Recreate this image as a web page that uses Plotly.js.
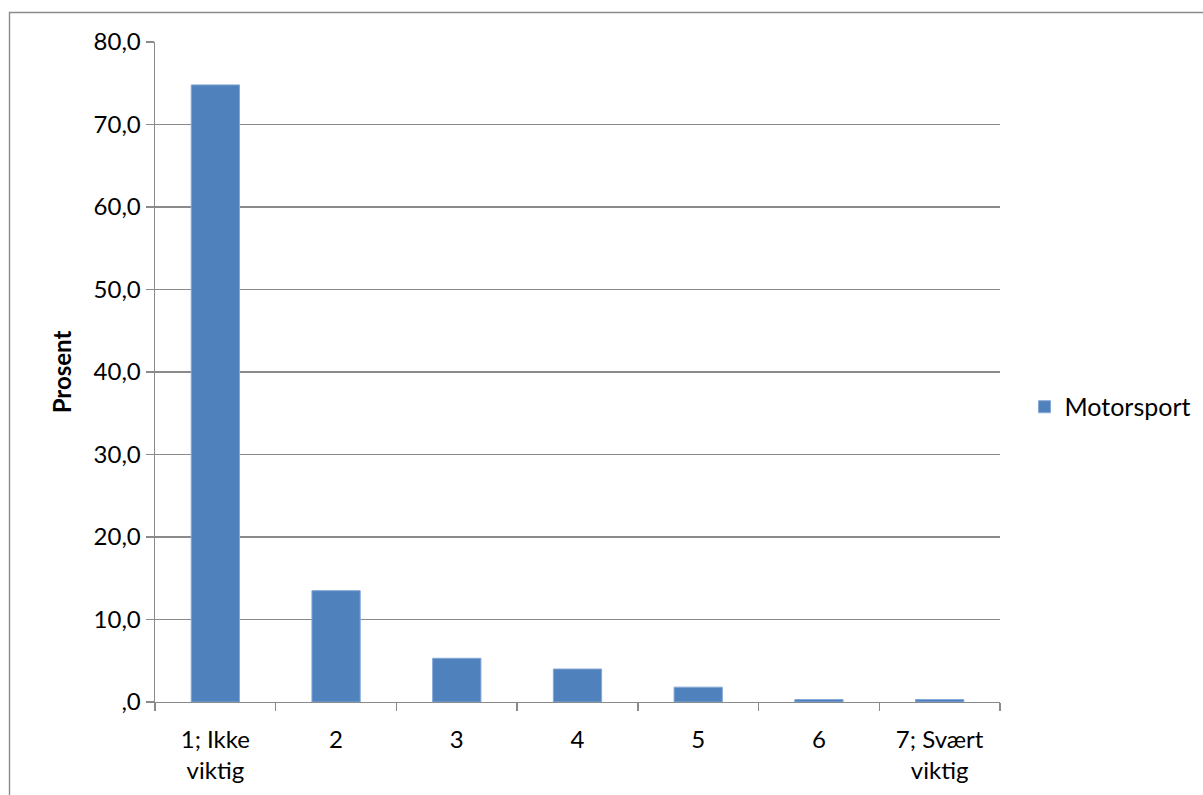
<!DOCTYPE html>
<html>
<head>
<meta charset="utf-8">
<script src="https://cdn.plot.ly/plotly-3.0.1.min.js"></script>
<style>
  html, body { margin: 0; padding: 0; background: #fff; }
  #chart { width: 1203px; height: 795px; }
</style>
</head>
<body>
<div id="chart"></div>
<script>
// Answer categories on the 1–7 importance scale
const categories = ['1; Ikke<br>viktig', '2', '3', '4', '5', '6', '7; Svært<br>viktig'];
// Share of respondents (percent) for Motorsport
const motorsport = [74.8, 13.5, 5.3, 4.0, 1.8, 0.3, 0.3];
// Y-axis ticks with Norwegian decimal comma
const yTickVals = [0, 10, 20, 30, 40, 50, 60, 70, 80];
const yTickText = [',0', '10,0', '20,0', '30,0', '40,0', '50,0', '60,0', '70,0', '80,0'];

const W = 1203, H = 795;
const M = { l: 155, r: 203, t: 42, b: 93, autoexpand: false };
const plotW = W - M.l - M.r;
const plotH = H - M.t - M.b;
// convert pixel position to paper coordinates for the outer frame
const px = x => (x - M.l) / plotW;
const py = y => (H - M.b - y) / plotH;

const gray = '#8a8a8a';
const font = 'Lato, "Open Sans", sans-serif';

const trace = {
  type: 'bar',
  x: categories,
  y: motorsport,
  name: 'Motorsport',
  marker: { color: '#4F81BD', line: { color: '#86a8d6', width: 1 } },
  hoverinfo: 'skip'
};

const layout = {
  width: W,
  height: H,
  margin: M,
  paper_bgcolor: '#fff',
  plot_bgcolor: '#fff',
  font: { family: font, size: 24, color: '#000' },
  bargap: 0.6,
  showlegend: true,
  legend: {
    x: 1.029, xanchor: 'left', y: 0.447, yanchor: 'middle',
    font: { family: font, size: 25, color: '#000' },
    bgcolor: 'rgba(0,0,0,0)'
  },
  xaxis: {
    type: 'category',
    showline: true, linecolor: gray, linewidth: 1.4,
    ticks: 'outside', ticklen: 8, tickcolor: gray, tickwidth: 1.4,
    tickson: 'boundaries',
    ticklabelstandoff: 16,
    showgrid: false,
    tickfont: { family: font, size: 24, color: '#000' },
    fixedrange: true
  },
  yaxis: {
    range: [0, 80],
    tickvals: yTickVals, ticktext: yTickText,
    showline: true, linecolor: gray, linewidth: 1.4,
    ticks: 'outside', ticklen: 8, tickcolor: gray, tickwidth: 1.4,
    showgrid: true, gridcolor: gray, gridwidth: 1.4,
    zeroline: false,
    tickfont: { family: font, size: 24, color: '#000' },
    title: { text: '<b>Prosent</b>', font: { family: font, size: 24, color: '#000' }, standoff: 15 },
    fixedrange: true
  },
  shapes: [{
    type: 'rect', xref: 'paper', yref: 'paper',
    x0: px(9.5), x1: px(1212), y0: py(805), y1: py(12.5),
    line: { color: gray, width: 1.4 }, fillcolor: 'rgba(0,0,0,0)', layer: 'below'
  }]
};

Plotly.newPlot('chart', [trace], layout, { staticPlot: true, displayModeBar: false });
</script>
</body>
</html>
